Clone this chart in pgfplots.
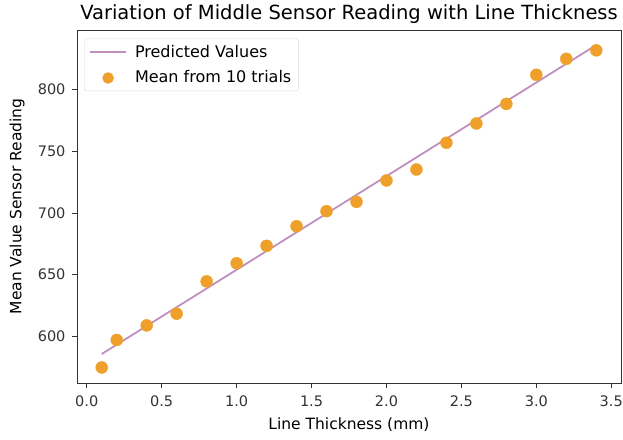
\documentclass[border=0pt]{standalone}
\usepackage{fontspec}
\setmainfont{DejaVu Sans}
\usepackage{pgfplots}
\pgfplotsset{compat=1.18}
\definecolor{dotc}{HTML}{EFA02B}
\definecolor{linec}{HTML}{BF8FBF}
\definecolor{axc}{HTML}{333333}
\begin{document}
\begin{tikzpicture}
\begin{axis}[
  name=ax,
  scale only axis,
  width=544pt, height=353pt,
  xmin=-0.065, xmax=3.565,
  ymin=562.2, ymax=848.4,
  xtick={0,0.5,1,1.5,2,2.5,3,3.5},
  ytick={600,650,700,750,800},
  xticklabel style={yshift=-4pt, /pgf/number format/.cd,fixed,fixed zerofill,precision=1},
  yticklabel style={xshift=-3pt},
  /pgf/number format/assume math mode=true,
  tick label style={font=\fontsize{14.5}{17}\selectfont, text=axc},
  tick align=outside, tick pos=left,
  major tick length=5pt,
  every tick/.style={axc, line width=0.9pt},
  axis line style={axc, line width=0.9pt},
  title={Variation of Middle Sensor Reading with Line Thickness},
  every axis title/.style={at={(0.5,1.046)}, anchor=center, font=\fontsize{19.5}{22}\selectfont},
  xlabel={Line Thickness (mm)},
  ylabel={Mean Value Sensor Reading},
  label style={font=\fontsize{15.5}{17}\selectfont},
  xlabel style={at={(axis description cs:0.5,-0.119)}, anchor=center},
  ylabel style={at={(axis description cs:-0.110,0.5)}, anchor=center},
  legend style={at={(0.0129,0.9765)}, anchor=north west, draw=black!15, rounded corners=2pt, font=\fontsize{16}{18}\selectfont, row sep=7pt, inner xsep=5pt, inner ysep=5pt},
  legend cell align=left,
  legend image code/.code={\draw[#1] (0pt,0pt) -- (36pt,0pt); \path (42pt,0pt);},
]
\addplot[linec, line width=1.8pt] coordinates {(0.1,585.7) (3.4,836.2)};
\addlegendentry{Predicted Values}
\addplot[dotc, only marks, mark=*, mark size=6pt, mark options={draw=dotc, fill=dotc},
  legend image code/.code={\fill[dotc] (18pt,-1pt) circle (5.5pt); \path (0pt,0pt) (42pt,0pt);}] coordinates {
(0.1,574.8) (0.2,597.1) (0.4,608.9) (0.6,618.4) (0.8,644.6) (1.0,659.3)
(1.2,673.4) (1.4,689.3) (1.6,701.5) (1.8,709.1) (2.0,726.4) (2.2,735.3)
(2.4,757.0) (2.6,772.6) (2.8,788.5) (3.0,812.1) (3.2,825.0) (3.4,831.9)};
\addlegendentry{Mean from 10 trials}
\end{axis}
\pgfresetboundingbox
\path[use as bounding box] ([shift={(-77pt,-56pt)}]ax.south west) rectangle ([shift={(2pt,30pt)}]ax.north east);
\end{tikzpicture}
\end{document}
